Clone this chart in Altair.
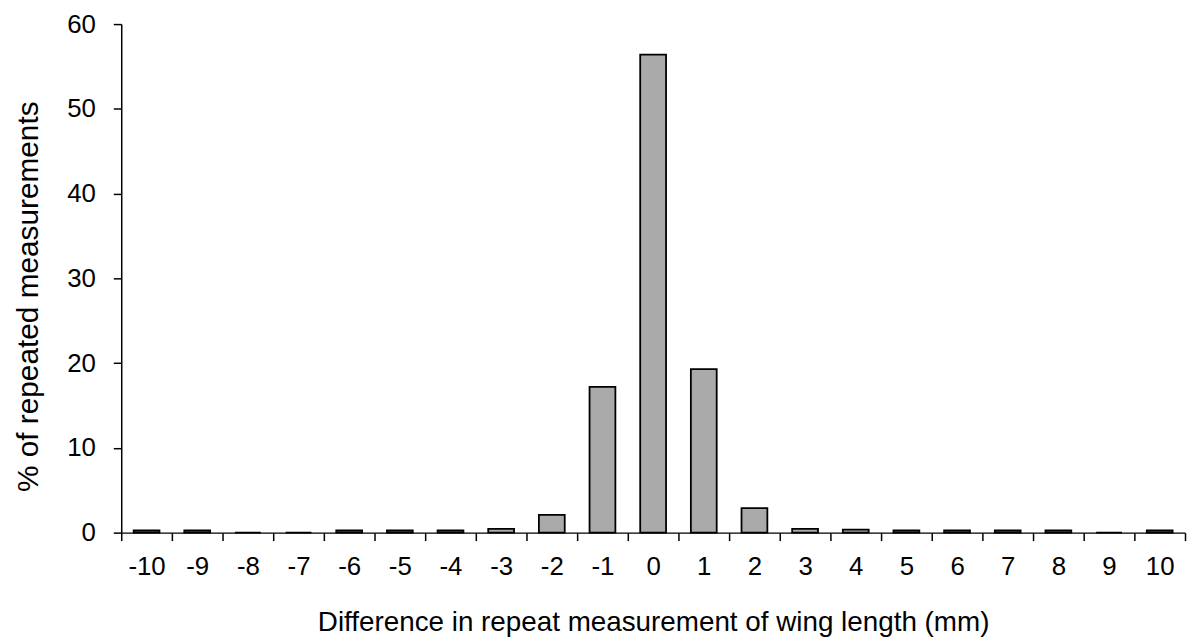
import altair as alt
import pandas as pd

diffs = [-10, -9, -8, -7, -6, -5, -4, -3, -2, -1, 0, 1, 2, 3, 4, 5, 6, 7, 8, 9, 10]
percent = [0.25, 0.25, 0.0, 0.0, 0.25, 0.25, 0.25, 0.45, 2.1, 17.2, 56.4, 19.3, 2.9, 0.45, 0.35, 0.25, 0.25, 0.25, 0.25, 0.0, 0.25]

df = pd.DataFrame({"diff": [str(d) for d in diffs], "pct": percent})
order = [str(d) for d in diffs]

FONT = "Liberation Sans"

chart = alt.Chart(df).mark_bar(
    width={"band": 0.51}, fill="#aaaaaa", stroke="black", strokeWidth=1.8
).encode(
    x=alt.X("diff:N", sort=order,
            scale=alt.Scale(paddingInner=0, paddingOuter=0),
            axis=alt.Axis(title="Difference in repeat measurement of wing length (mm)",
                          labelAngle=0, tickBand="extent", ticks=True, tickSize=8,
                          tickColor="black", domainColor="black", domainWidth=1.5,
                          tickWidth=1.5, labelFontSize=26, labelColor="black",
                          labelPadding=13, titleFontSize=28, titleFontWeight="normal",
                          titleColor="black", titlePadding=30, labelFont=FONT,
                          titleFont=FONT, grid=False)),
    y=alt.Y("pct:Q", scale=alt.Scale(domain=[0, 60], nice=False),
            axis=alt.Axis(title="% of repeated measurements", values=[0, 10, 20, 30, 40, 50, 60],
                          tickSize=8, tickColor="black", domainColor="black", domainWidth=1.5,
                          tickWidth=1.5, labelFontSize=26, labelColor="black",
                          labelPadding=18, titleFontSize=30, titleFontWeight="normal",
                          titleColor="black", titlePadding=23, titleY=274, labelFont=FONT,
                          titleFont=FONT, grid=False)),
).properties(
    width=1071, height=512,
    autosize=alt.AutoSizeParams(type="none"),
    padding={"left": 114, "top": 14, "right": 2, "bottom": 120},
).configure_view(stroke=None)

chart.save("out.html", embed_options={"renderer": "svg", "actions": False})
